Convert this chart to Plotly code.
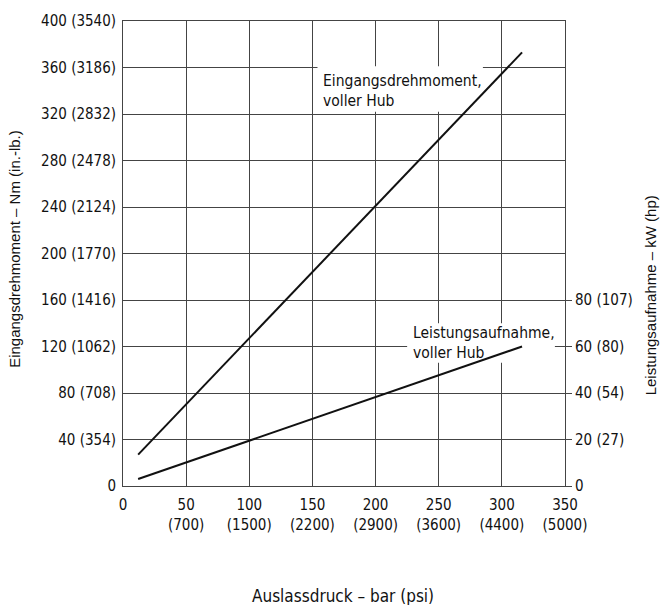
import plotly.graph_objects as go

# Outlet pressure (bar) sample points along each curve
pressure_bar = [12, 100, 200, 316]
# Input torque at full stroke (Nm)
torque_nm = [27, 127, 241, 373]
# Power input at full stroke (kW)
power_kw = [3, 19.5, 38.5, 60]

x_ticks = [0, 50, 100, 150, 200, 250, 300, 350]
x_ticktext = ["0", "50<br>(700)", "100<br>(1500)", "150<br>(2200)", "200<br>(2900)",
              "250<br>(3600)", "300<br>(4400)", "350<br>(5000)"]
y_ticks = [0, 40, 80, 120, 160, 200, 240, 280, 320, 360, 400]
y_ticktext = ["0", "40 (354)", "80 (708)", "120 (1062)", "160 (1416)", "200 (1770)",
              "240 (2124)", "280 (2478)", "320 (2832)", "360 (3186)", "400 (3540)"]
y2_ticks = [0, 20, 40, 60, 80]
y2_ticktext = ["0", "20 (27)", "40 (54)", "60 (80)", "80 (107)"]

NARROW = "DejaVu Sans Condensed, Liberation Sans Narrow, Arial Narrow, sans-serif"
REGULAR = "Liberation Sans, Arial, sans-serif"
GRID = "#444444"
INK = "#111111"

fig = go.Figure()
fig.add_trace(go.Scatter(x=pressure_bar, y=torque_nm, mode="lines",
                         line=dict(color=INK, width=2), showlegend=False))
fig.add_trace(go.Scatter(x=pressure_bar, y=power_kw, mode="lines", yaxis="y2",
                         line=dict(color=INK, width=2), showlegend=False))

# white label backgrounds: above the grid, beneath the curves
fig.add_shape(type="rect", xref="x", yref="y", x0=154, x1=285, y0=322, y1=361,
              fillcolor="white", line_width=0, layer="between")
fig.add_shape(type="rect", xref="x", yref="y", x0=225, x1=342, y0=106, y1=140,
              fillcolor="white", line_width=0, layer="between")

fig.add_annotation(x=157, y=358, xref="x", yref="y", xanchor="left", yanchor="top",
                   align="left", showarrow=False,
                   text="Eingangsdrehmoment,<br>voller Hub",
                   font=dict(family=NARROW, size=15.5, color=INK))
fig.add_annotation(x=228, y=141, xref="x", yref="y", xanchor="left", yanchor="top",
                   align="left", showarrow=False,
                   text="Leistungsaufnahme,<br>voller Hub",
                   font=dict(family=NARROW, size=15.5, color=INK))

# axis titles
fig.add_annotation(x=0.498, y=-0.2367, xref="paper", yref="paper", showarrow=False,
                   xanchor="center", yanchor="middle",
                   text="Auslassdruck – bar (psi)",
                   font=dict(family=NARROW, size=17, color=INK))
fig.add_annotation(x=0, y=0.51, xref="paper", yref="paper", showarrow=False,
                   xanchor="center", xshift=-108, textangle=-90,
                   text="Eingangsdrehmoment – Nm (in.-lb.)",
                   font=dict(family=REGULAR, size=15, color=INK))
fig.add_annotation(x=1, y=0.41, xref="paper", yref="paper", showarrow=False,
                   xanchor="center", xshift=85, textangle=-90,
                   text="Leistungsaufnahme – kW (hp)",
                   font=dict(family=REGULAR, size=15, color=INK))

fig.update_layout(
    width=662, height=605,
    margin=dict(l=123, r=97, t=17, b=119),
    paper_bgcolor="white", plot_bgcolor="white",
    font=dict(family=NARROW, size=15, color=INK),
    xaxis=dict(range=[0, 350], tickvals=x_ticks, ticktext=x_ticktext,
               showgrid=True, gridcolor=GRID, gridwidth=1, zeroline=False,
               showline=True, linecolor=GRID, linewidth=1, mirror=True,
               ticks="", ticklabelstandoff=5, tickfont=dict(family=NARROW, size=15)),
    yaxis=dict(range=[0, 400], tickvals=y_ticks, ticktext=y_ticktext,
               showgrid=True, gridcolor=GRID, gridwidth=1, zeroline=False,
               showline=True, linecolor=GRID, linewidth=1, mirror=True,
               ticks="", ticklabelstandoff=3, tickfont=dict(family=NARROW, size=15)),
    yaxis2=dict(range=[0, 200], overlaying="y", side="right", tickvals=y2_ticks,
                ticktext=y2_ticktext, showgrid=False, zeroline=False,
                showline=False, ticks="outside", ticklen=6, tickcolor=GRID,
                tickfont=dict(family=NARROW, size=15)),
)

fig.write_html("out.html")
